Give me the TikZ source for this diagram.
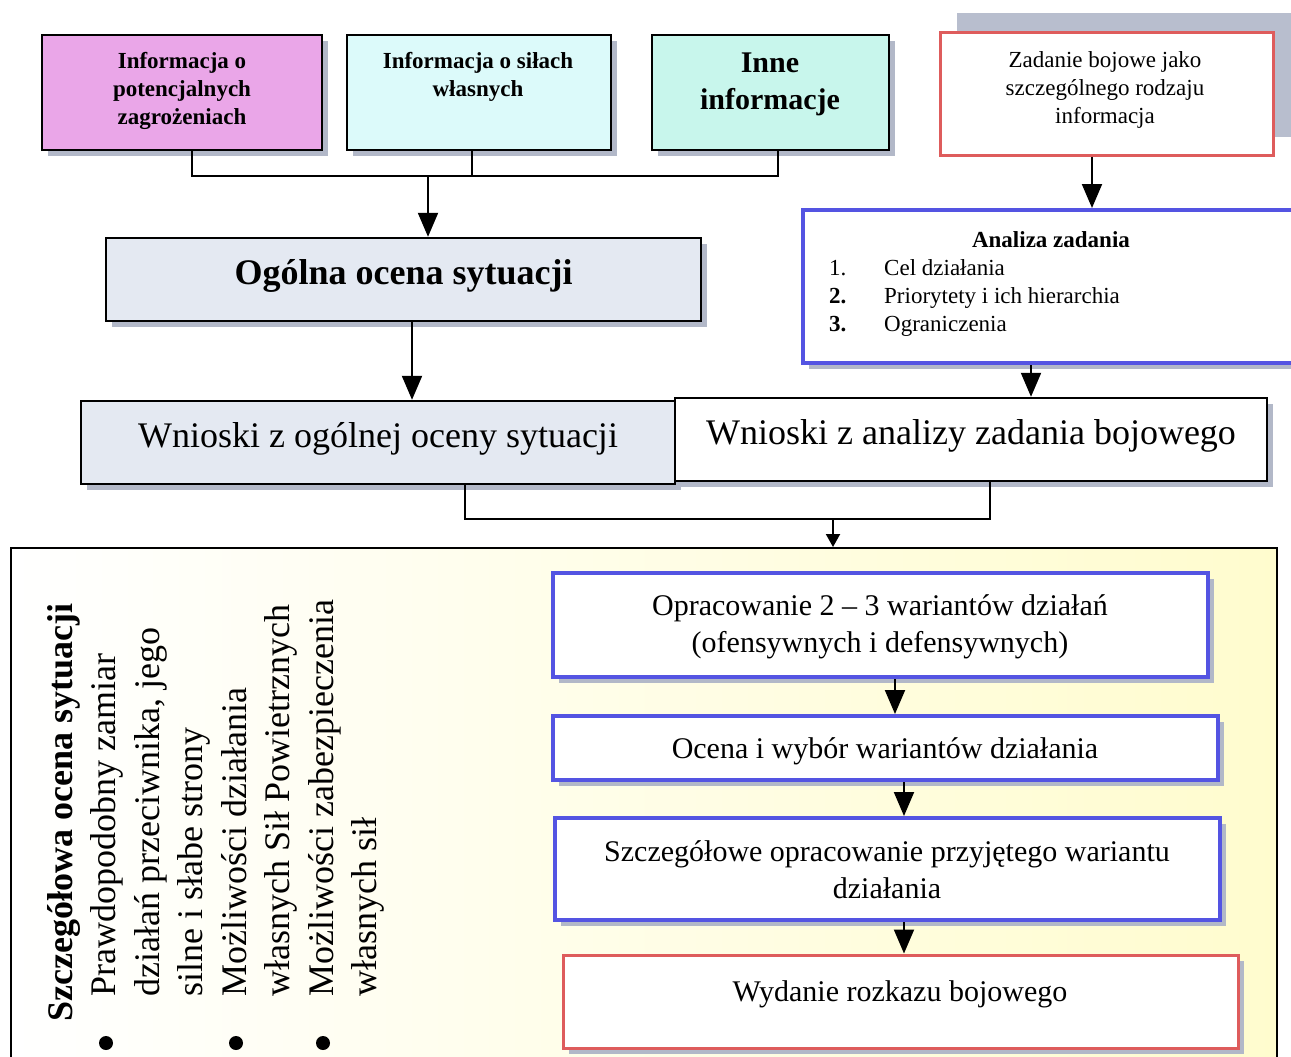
\documentclass[tikz,border=0pt]{standalone}
\usepackage{fontspec}
\setmainfont{Liberation Serif}
\usetikzlibrary{arrows.meta,shadows,fit,calc}
\definecolor{pinkfill}{RGB}{234,166,232}
\definecolor{cyanA}{RGB}{220,250,250}
\definecolor{cyanB}{RGB}{200,246,236}
\definecolor{grayblue}{RGB}{228,233,242}
\definecolor{shadowgray}{RGB}{178,184,200}
\definecolor{biggray}{RGB}{184,190,206}
\definecolor{bluebord}{RGB}{84,84,226}
\definecolor{redbord}{RGB}{222,92,92}
\definecolor{paleyellow}{RGB}{255,252,206}
\begin{document}
\begin{tikzpicture}[x=1pt,y=-1pt,
  bx/.style={draw=black, line width=2.4pt, inner sep=0pt,
    drop shadow={shadow xshift=6pt,shadow yshift=-6pt,fill=shadowgray,opacity=1}},
  bluebx/.style={bx, draw=bluebord, line width=4pt, fill=white},
  redbx/.style={bx, draw=redbord, line width=3pt, fill=white},
  conn/.style={line width=2pt},
  arr/.style={line width=2pt, -{Triangle[width=20pt,length=24pt]}},
  arrsmall/.style={line width=2pt, -{Triangle[width=14pt,length=13pt]}},
  txt/.style={inner sep=0pt, align=center},
  smallb/.style={txt, font=\fontsize{23}{28}\selectfont\bfseries},
  smallr/.style={txt, font=\fontsize{23}{28}\selectfont},
  midb/.style={txt, font=\fontsize{30}{37}\selectfont\bfseries},
  midr/.style={txt, font=\fontsize{30}{37}\selectfont},
  bigr/.style={txt, font=\fontsize{36}{43}\selectfont},
  bigb/.style={txt, font=\fontsize{36}{43}\selectfont\bfseries},
  rot/.style={inner sep=0pt, rotate=90, anchor=base west, font=\fontsize{36}{43}\selectfont},
  bullet/.style={circle, fill=black, inner sep=0pt, minimum size=14pt}
]
\clip (0,0) rectangle (1291,1057);
\fill[white] (0,0) rectangle (1291,1057);

% gray block behind the task box
\fill[biggray] (957,13) rectangle (1300,137);

% top boxes
\node[bx, fill=pinkfill, fit={(42,35) (322,150)}] (b1) {};
\node[bx, fill=cyanA, fit={(347,35) (611,150)}] (b2) {};
\node[bx, fill=cyanB, fit={(652,35) (889,150)}] (b3) {};
\node[draw=redbord, line width=3pt, fill=white, inner sep=0pt, fit={(940,33) (1273,155)}] (zad) {};

\node[smallb] (t1) at (182,91) {Informacja o\\potencjalnych\\zagrożeniach};
\node[smallb] (t2) at (478,77) {Informacja o siłach\\własnych};
\node[midb] (t3) at (770,84) {Inne\\informacje};
\node[smallr] (t4) at (1105,90) {Zadanie bojowe jako\\szczególnego rodzaju\\informacja};

% general assessment
\node[bx, fill=grayblue, fit={(106,238) (701,321)}] (ogolna) {};
\node[bigb] (tog) at ([yshift=4pt]ogolna.center) {Ogólna ocena sytuacji};

% task analysis
\node[bluebx, fit={(803,210) (1310,363)}] (an) {};
\node[smallb, anchor=base] (anh) at (1051,247) {Analiza zadania};
\node[smallr, anchor=base west] (n1) at (829,275) {1.};
\node[smallr, anchor=base west] (i1) at (884,275) {Cel działania};
\node[smallb, anchor=base west] (n2) at (829,303) {2.};
\node[smallr, anchor=base west] (i2) at (884,303) {Priorytety i ich hierarchia};
\node[smallb, anchor=base west] (n3) at (829,331) {3.};
\node[smallr, anchor=base west] (i3) at (884,331) {Ograniczenia};

% conclusions
\node[bx, fill=grayblue, fit={(81,401) (675,484)}] (wl) {};
\node[bx, fill=white, fit={(675,398) (1267,481)}] (wr) {};
\node[bigr] (twl) at ([yshift=4pt]wl.center) {Wnioski z ogólnej oceny sytuacji};
\node[bigr] (twr) at ([yshift=4pt]wr.center) {Wnioski z analizy zadania bojowego};

% big container
\node[draw=black, line width=2pt, inner sep=0pt, left color=white, middle color=white!60!paleyellow, right color=paleyellow, fit={(11,548) (1277,1080)}] (big) {};

% detailed assessment (rotated)
\node[rot, font=\fontsize{36}{43}\selectfont\bfseries] (h0) at (72,1022) {Szczegółowa ocena sytuacji};
\node[rot] (l1) at (115.5,997) {Prawdopodobny zamiar};
\node[rot] (l2) at (159,997) {działań przeciwnika, jego};
\node[rot] (l3) at (202.5,997) {silne i słabe strony};
\node[rot] (l4) at (246,997) {Możliwości działania};
\node[rot] (l5) at (289.5,997) {własnych Sił Powietrznych};
\node[rot] (l6) at (333,997) {Możliwości zabezpieczenia};
\node[rot] (l7) at (376.5,997) {własnych sił};
\node[bullet] (bl1) at (106,1043) {};
\node[bullet] (bl2) at (236,1043) {};
\node[bullet] (bl3) at (323,1043) {};

% process boxes
\node[bluebx, fit={(553,573) (1208,677)}] (pa) {};
\node[bluebx, fit={(553,716) (1218,780)}] (pb) {};
\node[bluebx, fit={(555,818) (1220,920)}] (pc) {};
\node[redbx, fit={(563,955) (1238,1048)}] (pd) {};
\node[midr] (tpa) at (880,627) {Opracowanie 2 – 3 wariantów działań\\(ofensywnych i defensywnych)};
\node[midr] (tpb) at (885,751) {Ocena i wybór wariantów działania};
\node[midr] (tpc) at (887,870) {Szczegółowe opracowanie przyjętego wariantu\\działania};
\node[midr] (tpd) at (900,994) {Wydanie rozkazu bojowego};

% connectors
\coordinate (bus1) at (428,175);
\draw[conn] ([xshift=10pt]b1.south) -- ++(0,25) -| ([xshift=7.5pt]b3.south);
\draw[conn] ([xshift=-7pt]b2.south) -- ++(0,25);
\draw[arr] (bus1) -- (bus1 |- ogolna.north);
\draw[arr] ([xshift=8.5pt]ogolna.south) -- ([xshift=8.5pt]ogolna.south |- wl.north);
\draw[arr] ([xshift=-14.5pt]zad.south) -- ([xshift=-14.5pt]zad.south |- an.north);
\draw[arr] ([xshift=-25.5pt]an.south) -- ([xshift=-25.5pt]an.south |- wr.north);
\coordinate (bus2) at (833,518);
\draw[conn] ([xshift=87pt]wl.south) -- ++(0,34) -| ([xshift=19pt]wr.south);
\draw[arrsmall] (bus2) -- (bus2 |- big.north);
\draw[arr] ([xshift=14.5pt]pa.south) -- ([xshift=14.5pt]pa.south |- pb.north);
\draw[arr] ([xshift=18.5pt]pb.south) -- ([xshift=18.5pt]pb.south |- pc.north);
\draw[arr] ([xshift=16.5pt]pc.south) -- ([xshift=16.5pt]pc.south |- pd.north);
\end{tikzpicture}
\end{document}
